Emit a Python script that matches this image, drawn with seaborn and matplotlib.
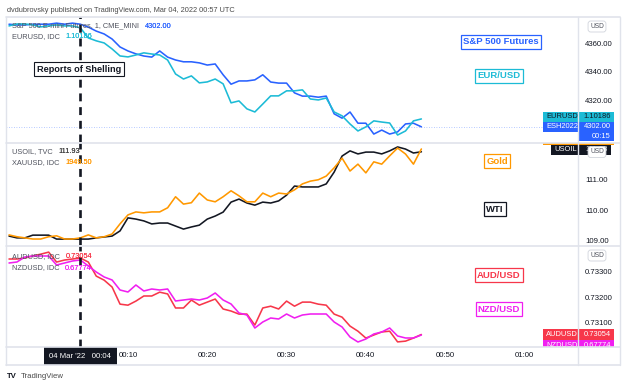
import numpy as np
import matplotlib
matplotlib.use("Agg")
import matplotlib.pyplot as plt
import seaborn as sns
from matplotlib.ticker import FormatStrFormatter
from matplotlib.transforms import Bbox, TransformedBbox, blended_transform_factory
from matplotlib.patches import Rectangle
from matplotlib.lines import Line2D

# 1-minute bars, 03 Mar 23:55 -> 04 Mar 00:47 (minutes after midnight)
minutes = np.arange(-5, 48)

sp500 = [4373, 4372.5, 4372.5, 4373, 4373, 4373, 4373.75, 4373, 4373.75, 4373,
         4371, 4368.25, 4366.25, 4362.75, 4357.25, 4354.5, 4352.5, 4351, 4350.25, 4354.5,
         4350.25, 4348.25, 4347, 4347, 4346.25, 4344.75, 4345.5, 4338, 4331.5, 4333.75,
         4333.75, 4334.5, 4338, 4333, 4332.25, 4332.25, 4325.5, 4323.25, 4323.25, 4322.5,
         4323.25, 4311, 4308, 4312.25, 4304.5, 4304.5, 4297, 4299.75, 4297, 4298.5,
         4304, 4304.5, 4302]
eurusd = [1.10666, 1.10676, 1.10676, 1.10671, 1.10661, 1.10666, 1.10671, 1.10666, 1.10666, 1.10656,
          1.10604, 1.10589, 1.10578, 1.10547, 1.10511, 1.10506, 1.10516, 1.10527, 1.10521, 1.10516,
          1.10490, 1.10418, 1.10392, 1.10408, 1.10372, 1.10377, 1.10392, 1.10367, 1.10269, 1.10279,
          1.10238, 1.10222, 1.10263, 1.10305, 1.10305, 1.10331, 1.10331, 1.10336, 1.10289, 1.10284,
          1.10294, 1.10222, 1.10202, 1.10160, 1.10124, 1.10145, 1.10176, 1.10170, 1.10165, 1.10103,
          1.10124, 1.10176, 1.10186]
usoil = [109.15, 109.09, 109.09, 109.18, 109.18, 109.18, 109.05, 109.05, 109.05, 109.05,
         109.05, 109.09, 109.12, 109.15, 109.32, 109.75, 109.71, 109.65, 109.55, 109.58,
         109.58, 109.48, 109.38, 109.45, 109.51, 109.71, 109.81, 109.94, 110.27, 110.37,
         110.24, 110.17, 110.27, 110.24, 110.31, 110.50, 110.80, 110.77, 110.77, 110.77,
         110.87, 111.26, 111.79, 111.96, 111.86, 111.92, 111.92, 111.86, 111.96, 112.09,
         112.02, 111.89, 111.93]
xauusd = [1930.8, 1930.4, 1930.15, 1929.9, 1929.9, 1930.4, 1930.6, 1929.9, 1929.9, 1930.15,
          1930.8, 1930.15, 1930.4, 1931.0, 1933.2, 1935.15, 1935.8, 1935.6, 1935.8, 1935.8,
          1936.7, 1939.1, 1937.5, 1937.8, 1939.9, 1938.4, 1938.0, 1939.1, 1940.4, 1939.3,
          1938.0, 1938.0, 1939.9, 1939.1, 1939.9, 1939.7, 1940.6, 1941.9, 1942.5, 1942.8,
          1943.6, 1945.4, 1947.5, 1944.7, 1946.2, 1944.3, 1946.7, 1946.2, 1948.0, 1949.7,
          1948.4, 1946.2, 1949.5]
audusd = [0.73350, 0.73350, 0.73354, 0.73362, 0.73369, 0.73377, 0.73338, 0.73346, 0.73350, 0.73354,
          0.73338, 0.73283, 0.73267, 0.73240, 0.73173, 0.73169, 0.73185, 0.73205, 0.73205, 0.73220,
          0.73213, 0.73158, 0.73158, 0.73189, 0.73169, 0.73181, 0.73193, 0.73154, 0.73146, 0.73134,
          0.73134, 0.73091, 0.73158, 0.73165, 0.73154, 0.73185, 0.73165, 0.73181, 0.73181, 0.73173,
          0.73169, 0.73134, 0.73122, 0.73087, 0.73067, 0.73040, 0.73052, 0.73064, 0.73067, 0.73025,
          0.73028, 0.73040, 0.73054]
nzdusd = [0.68134, 0.68139, 0.68164, 0.68169, 0.68169, 0.68169, 0.68124, 0.68134, 0.68144, 0.68149,
          0.68119, 0.68089, 0.68064, 0.68049, 0.67999, 0.67989, 0.68024, 0.67994, 0.68004, 0.67999,
          0.68004, 0.67944, 0.67949, 0.67954, 0.67949, 0.67959, 0.67984, 0.67949, 0.67929, 0.67884,
          0.67874, 0.67809, 0.67839, 0.67859, 0.67854, 0.67879, 0.67859, 0.67874, 0.67879, 0.67879,
          0.67879, 0.67839, 0.67814, 0.67764, 0.67739, 0.67754, 0.67779, 0.67789, 0.67809, 0.67769,
          0.67759, 0.67759, 0.67774]

time_ticks = [10, 20, 30, 40, 50, 60]
time_labels = ["00:10", "00:20", "00:30", "00:40", "00:50", "01:00"]
sp_ticks = [4320, 4340, 4360]
oil_ticks = [109, 110, 111]
aud_ticks = [0.731, 0.732, 0.733]
event_minute = 4

BLUE = '#2962ff'
CYAN = '#1cbbd6'
ORANGE = '#ff9800'
BLACK = '#131722'
RED = '#f7374a'
MAGENTA = '#f01ff0'
GRID = '#e0e3eb'
GREY = '#50535e'

sns.set_theme(style='white')
plt.rcParams['font.family'] = ['Liberation Sans', 'DejaVu Sans']

W, H = 624, 387
X0, X1, XR = 6, 578, 620
fig = plt.figure(figsize=(W / 100, H / 100), dpi=100)
fig.patch.set_facecolor('white')


def rect(x0, y0, x1, y1):
    return [x0 / W, 1 - y1 / H, (x1 - x0) / W, (y1 - y0) / H]


def fxy(px, py):
    return px / W, 1 - py / H


panes = [(17, 142), (143, 245), (246, 347)]
XLIM = (-5.38, 66.75)


def make_pane(top, bot, main, over, c_main, c_over, lim_main, lim_over, ticks, fmt):
    ax = fig.add_axes(rect(X0, top, X1, bot))
    axb = ax.twinx()
    sns.lineplot(x=minutes, y=main, ax=ax, color=c_main, lw=1.15)
    sns.lineplot(x=minutes, y=over, ax=axb, color=c_over, lw=1.15)
    for a in (ax, axb):
        a.set_xlim(*XLIM)
        a.set_xticks([])
        a.set_xlabel('')
        a.set_ylabel('')
        for s in a.spines.values():
            s.set_visible(False)
    ax.set_ylim(*lim_main)
    axb.set_ylim(*lim_over)
    axb.set_yticks([])
    ax.yaxis.tick_right()
    ax.set_yticks(ticks)
    ax.yaxis.set_major_formatter(FormatStrFormatter(fmt))
    ax.tick_params(axis='y', length=0, pad=5, labelsize=5.6, colors=BLACK)
    axb.axvline(event_minute, color=BLACK, lw=1.9, ls=(0, (3, 2.2)), zorder=6)
    return ax, axb


ax1, ax1b = make_pane(*panes[0], sp500, eurusd, BLUE, CYAN,
                      (4291.5, 4378.0), (1.10067, 1.10712), sp_ticks, '%.2f')
ax2, ax2b = make_pane(*panes[1], usoil, xauusd, BLACK, ORANGE,
                      (108.855, 112.22), (1928.6, 1950.8), oil_ticks, '%.2f')
ax3, ax3b = make_pane(*panes[2], audusd, nzdusd, RED, MAGENTA,
                      (0.73005, 0.73401), (0.67714, 0.68219), aud_ticks, '%.5f')
ax1.axhline(sp500[-1], color=BLUE, lw=0.6, ls=(0, (1, 2)), alpha=0.45)

# time scale
axt = fig.add_axes(rect(X0, 347, X1, 365))
axt.set_xlim(*XLIM)
axt.set_yticks([])
axt.set_xticks(time_ticks, time_labels)
axt.tick_params(axis='x', length=0, pad=-9.4, labelsize=5.6, colors=BLACK)
for s in axt.spines.values():
    s.set_visible(False)
axt.text(event_minute, 0.5, "04 Mar '22   00:04", transform=blended_transform_factory(axt.transData, axt.transAxes),
         ha='center', va='center', color='white', fontsize=5.6,
         bbox=dict(boxstyle='square,pad=0.75', fc=BLACK, ec='none'))

# frame and separators
for y in (17, 142.5, 245.5, 347, 365):
    fig.add_artist(Line2D([X0 / W, XR / W], [1 - y / H] * 2, color=GRID, lw=1.2))
for x in (X0, X1, XR):
    fig.add_artist(Line2D([x / W] * 2, [1 - 17 / H, 1 - 365 / H], color=GRID, lw=1.0))


def price_tag(ax, yval, pane, name, value, fc, tc, lift=0.0, h=10.5, x0px=543, x1px=614):
    top, bot = pane
    lo, hi = ax.get_ylim()
    unit = (hi - lo) / (bot - top)
    yc = yval + lift * unit
    tr = blended_transform_factory(ax.transAxes, ax.transData)
    clip = TransformedBbox(Bbox([[0, 0], [(XR - X0) / (X1 - X0), 1]]), ax.transAxes)
    xa = (x0px - X0) / (X1 - X0)
    xb = (x1px - X0) / (X1 - X0)
    r = Rectangle((xa, yc - h / 2 * unit), xb - xa, h * unit, transform=tr, fc=fc, ec='none', zorder=8)
    ax.add_patch(r)
    r.set_clip_box(clip)
    arts = []
    if name:
        arts.append(ax.text(xa + 3 / 572, yc, name, transform=tr, ha='left', va='center',
                            fontsize=5.4, color=tc, zorder=9))
    if value:
        arts.append(ax.text(xb - 3 / 572, yc, value, transform=tr, ha='right', va='center',
                            fontsize=5.4, color=tc, zorder=9))
    for t in arts:
        t.set_clip_box(clip)
        t.set_clip_on(True)


price_tag(ax1b, eurusd[-1], panes[0], 'EURUSD', '1.10186', CYAN, BLACK, lift=2)
price_tag(ax1, sp500[-1], panes[0], 'ESH2022', '4302.00', BLUE, 'white')
price_tag(ax1, sp500[-1], panes[0], '', '00:15', BLUE, 'white', lift=-9.5, h=8.5, x0px=578)
# gold tag is pushed above its pane and only its lower edge shows
price_tag(ax2b, xauusd[-1], panes[1], '', '', ORANGE, 'white', lift=9)
price_tag(ax2, usoil[-1], panes[1], 'USOIL', '111.93', BLACK, 'white', lift=1.8, x0px=551, x1px=611)
price_tag(ax3, audusd[-1], panes[2], 'AUDUSD', '0.73054', RED, 'white')
price_tag(ax3b, nzdusd[-1], panes[2], 'NZDUSD', '0.67774', MAGENTA, 'white', lift=-10.5)

# currency buttons on price scale
for py in (26.5, 152, 255.5):
    fig.text(*fxy(597, py), 'USD', ha='center', va='center', fontsize=4.8, color=GREY, zorder=10,
             bbox=dict(boxstyle='round,pad=0.3,rounding_size=0.4', fc='white', ec='#d1d4dc', lw=0.6))


def legend_line(px, py, label, value, vcolor):
    t = fig.text(*fxy(px, py), label, ha='left', va='center', fontsize=5.3, color=GREY, zorder=10)
    a = plt.annotate(value, xy=(1, 0.5), xycoords=t, xytext=(4, 0), textcoords='offset points',
                     ha='left', va='center', fontsize=5.3, color=vcolor, zorder=10,
                     annotation_clip=False)
    fig.add_artist(a)


legend_line(12, 26, 'S&P 500 E-mini Futures, 1, CME_MINI', '4302.00', BLUE)
legend_line(12, 37, 'EURUSD, IDC', '1.10186', CYAN)
legend_line(12, 152, 'USOIL, TVC', '111.93', '#444444')
legend_line(12, 163, 'XAUUSD, IDC', '1949.50', ORANGE)
legend_line(12, 257, 'AUDUSD, IDC', '0.73054', RED)
legend_line(12, 268, 'NZDUSD, IDC', '0.67774', MAGENTA)

# series labels
boxes = [('S&P 500 Futures', 501, 42, BLUE), ('EUR/USD', 499, 76, CYAN),
         ('Gold', 497, 161, ORANGE), ('WTI', 495, 209, BLACK),
         ('AUD/USD', 499, 275, RED), ('NZD/USD', 499, 309, MAGENTA)]
for txt, px, py, c in boxes:
    fig.text(*fxy(px, py), txt, ha='center', va='center', fontsize=6.8, fontweight='bold', color=c, zorder=10,
             bbox=dict(boxstyle='square,pad=0.22', fc='white', ec=c, lw=0.9))

fig.text(*fxy(79, 69), 'Reports of Shelling', ha='center', va='center', fontsize=6.6, fontweight='bold',
         color=BLACK, zorder=10, bbox=dict(boxstyle='square,pad=0.28', fc='white', ec=BLACK, lw=0.8))

fig.text(*fxy(7, 10), 'dvdubrovsky published on TradingView.com, Mar 04, 2022 00:57 UTC',
         ha='left', va='center', fontsize=5.3, color='#4a4a4a')
fig.text(*fxy(7, 376), 'TV', ha='left', va='center', fontsize=5.6, fontweight='bold', color=BLACK)
fig.text(*fxy(21, 376), 'TradingView', ha='left', va='center', fontsize=5.6, color='#4a4a4a')

fig.savefig('out.png', dpi=100)
